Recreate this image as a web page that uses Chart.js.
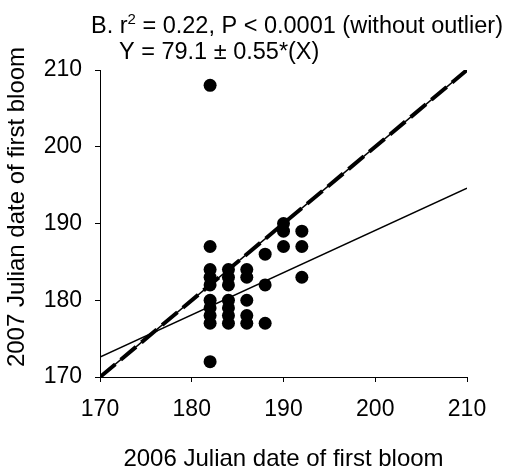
<!DOCTYPE html>
<html>
<head>
<meta charset="utf-8">
<script src="https://cdn.jsdelivr.net/npm/chart.js@4/dist/chart.umd.min.js"></script>
<style>
  body { margin: 0; background: #fff; }
  canvas { display: block; }
</style>
</head>
<body>
<canvas id="bloomChart" width="516" height="476"></canvas>
<script>
// first bloom dates per plant: 2006 (x) against 2007 (y)
const bloom2006 = [182, 182, 182, 182, 182, 182, 182, 182, 182, 182,
                   184, 184, 184, 184, 184, 184, 184,
                   186, 186, 186, 186, 186,
                   188, 188, 188,
                   190, 190, 190,
                   192, 192, 192];
const bloom2007 = [208, 187, 184, 183, 182, 180, 179, 178, 177, 172,
                   184, 183, 182, 180, 179, 178, 177,
                   184, 183, 180, 178, 177,
                   186, 182, 177,
                   190, 189, 187,
                   189, 187, 183];
const axisTicks = [170, 180, 190, 200, 210];

// regression (without outlier): Y = 79.1 + 0.55*X
const fitIntercept = 79.1;
const fitSlope = 0.55;

const FONT = '"Liberation Sans", Arial, sans-serif';

document.addEventListener('DOMContentLoaded', function() {
    const lo = axisTicks[0];
    const hi = axisTicks[axisTicks.length - 1];
    const points = bloom2006.map((x, i) => ({ x: x, y: bloom2007[i] }));
    const fitLine = [lo, hi].map(x => ({ x: x, y: fitIntercept + fitSlope * x }));
    const oneToOne = [lo, hi].map(v => ({ x: v, y: v }));

    // header text and rotated y title
    const textPlugin = {
        id: 'bloomText',
        afterDraw(chart) {
            const ctx = chart.ctx;
            ctx.save();
            ctx.fillStyle = '#000';
            ctx.textBaseline = 'alphabetic';
            ctx.textAlign = 'left';

            let x = 91;
            ctx.font = '23.5px ' + FONT;
            ctx.fillText('B. r', x, 33);
            x += ctx.measureText('B. r').width;
            ctx.font = '15px ' + FONT;
            ctx.fillText('2', x, 24);
            x += ctx.measureText('2').width;
            ctx.font = '23.5px ' + FONT;
            ctx.fillText(' = 0.22, P < 0.0001 (without outlier)', x, 33);
            ctx.fillText('Y = 79.1 \u00b1 0.55*(X)', 119, 59);

            ctx.font = '24px ' + FONT;
            ctx.translate(17, 207);
            ctx.rotate(-Math.PI / 2);
            ctx.textAlign = 'center';
            ctx.textBaseline = 'middle';
            ctx.fillText('2007 Julian date of first bloom', 0, 0);
            ctx.restore();
        }
    };

    const axisStyle = {
        min: lo,
        max: hi,
        afterBuildTicks: scale => { scale.ticks = axisTicks.map(v => ({ value: v })); },
        border: { color: '#000', width: 1 },
        grid: { drawOnChartArea: false, drawTicks: true, tickLength: 5, color: '#000' },
        ticks: { color: '#000', font: { family: FONT, size: 23 } }
    };

    const ctx = document.getElementById('bloomChart').getContext('2d');
    new Chart(ctx, {
        type: 'scatter',
        data: {
            datasets: [
                {
                    label: 'Plants',
                    data: points,
                    backgroundColor: '#000',
                    borderWidth: 0,
                    pointRadius: 6.5,
                    order: 3
                },
                {
                    label: 'Regression',
                    data: fitLine,
                    showLine: true,
                    borderColor: '#000',
                    borderWidth: 1.5,
                    pointRadius: 0,
                    order: 2
                },
                {
                    label: '1:1',
                    data: oneToOne,
                    showLine: true,
                    borderColor: '#000',
                    borderWidth: 1.5,
                    pointRadius: 0,
                    order: 1
                },
                {
                    label: '1:1 dashed',
                    data: oneToOne,
                    showLine: true,
                    borderColor: '#000',
                    borderWidth: 4,
                    borderDash: [20, 7],
                    pointRadius: 0,
                    order: 0
                }
            ]
        },
        options: {
            responsive: false,
            animation: false,
            layout: { padding: { left: 0, top: 70, right: 49, bottom: 0 } },
            plugins: {
                legend: { display: false },
                tooltip: { enabled: false }
            },
            scales: {
                x: Object.assign({}, axisStyle, {
                    afterFit: scale => { scale.height = 99; },
                    ticks: Object.assign({}, axisStyle.ticks, { padding: 14 }),
                    title: {
                        display: true,
                        text: '2006 Julian date of first bloom',
                        color: '#000',
                        font: { family: FONT, size: 24 },
                        padding: { top: 0, bottom: 2 }
                    }
                }),
                y: Object.assign({}, axisStyle, {
                    afterFit: scale => { scale.width = 100; },
                    ticks: Object.assign({}, axisStyle.ticks, { padding: 13 })
                })
            }
        },
        plugins: [textPlugin]
    });
});
</script>
</body>
</html>
